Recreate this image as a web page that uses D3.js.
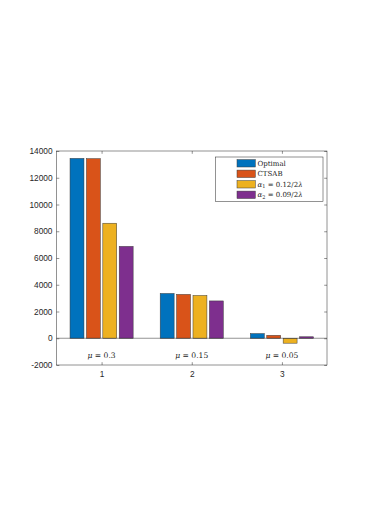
<!DOCTYPE html>
<html>
<head>
<meta charset="utf-8">
<script src="https://cdn.jsdelivr.net/npm/d3@7"></script>
<style>
html,body{margin:0;padding:0;background:#fff;}
svg{display:block;}
</style>
</head>
<body>
<svg id="c" width="372" height="526"></svg>
<script>
const groups = [1, 2, 3];
const muLabels = ["0.3", "0.15", "0.05"];
const seriesNames = ["Optimal", "CTSAB", "a1", "a2"];
const optimal = [13450, 3350, 350];
const ctsab = [13430, 3280, 220];
const alpha1 = [8600, 3200, -370];
const alpha2 = [6870, 2790, 110];
const yTicks = [-2000, 0, 2000, 4000, 6000, 8000, 10000, 12000, 14000];
const colors = ["#0072BD", "#D95319", "#EDB120", "#7E2F8E"];

const series = [optimal, ctsab, alpha1, alpha2];
const svg = d3.select("#c");
const L = 56.5, R = 327, T = 151, B = 365;
const x = d3.scaleLinear().domain([0.5, 3.5]).range([L, R]);
const y = d3.scaleLinear().domain([-2000, 14000]).range([B, T]);

const axisCol = "#262626";
const groupW = 0.7273, step = groupW / 4, barW = step * 0.85;

// bars
series.forEach((s, si) => {
  svg.append("g").selectAll("rect").data(s).join("rect")
    .attr("x", (d, i) => x(groups[i] - groupW / 2 + step * si + (step - barW) / 2))
    .attr("width", x(barW) - x(0))
    .attr("y", d => y(Math.max(0, d)))
    .attr("height", d => Math.abs(y(d) - y(0)))
    .attr("fill", colors[si])
    .attr("stroke", "#3a3a3a")
    .attr("stroke-width", 0.5);
});

// baseline
svg.append("line").attr("x1", L).attr("x2", R).attr("y1", y(0)).attr("y2", y(0))
  .attr("stroke", axisCol).attr("stroke-width", 0.5);

// axes
const tl = 2.8;
const ax = svg.append("g");
ax.append("rect").attr("x", L).attr("y", T).attr("width", R - L).attr("height", B - T)
  .attr("fill", "none").attr("stroke", axisCol).attr("stroke-width", 0.5);
const yl = svg.append("g").attr("transform", `translate(${L},0)`)
  .call(d3.axisLeft(y).tickValues(yTicks).tickSize(-tl).tickPadding(4).tickFormat(d => String(d)));
const yr = svg.append("g").attr("transform", `translate(${R},0)`)
  .call(d3.axisRight(y).tickValues(yTicks).tickSize(-tl).tickFormat(""));
const xb = svg.append("g").attr("transform", `translate(0,${B})`)
  .call(d3.axisBottom(x).tickValues(groups).tickSize(-tl).tickPadding(6).tickFormat(d => String(d)));
const xt = svg.append("g").attr("transform", `translate(0,${T})`)
  .call(d3.axisTop(x).tickValues(groups).tickSize(-tl).tickFormat(""));
[yl, yr, xb, xt].forEach(g => {
  g.select(".domain").remove();
  g.selectAll(".tick line").attr("stroke", axisCol).attr("stroke-width", 0.5);
  g.selectAll("text").attr("fill", axisCol).attr("font-family", "Liberation Sans, Arial, sans-serif").attr("font-size", 8.3);
});

// mu labels
groups.forEach((g, i) => {
  const t = svg.append("text").attr("x", x(g)).attr("y", 357.5).attr("text-anchor", "middle")
    .attr("font-family", "DejaVu Serif, Liberation Serif, serif").attr("font-size", 7.6).attr("fill", "#222");
  t.append("tspan").attr("font-style", "italic").text("μ");
  t.append("tspan").text(" = " + muLabels[i]);
});

// legend
const lg = svg.append("g");
lg.append("rect").attr("x", 215.5).attr("y", 157).attr("width", 107.5).attr("height", 44.5)
  .attr("fill", "#fff").attr("stroke", axisCol).attr("stroke-width", 0.5);
const legendTexts = [
  [{t: "Optimal"}],
  [{t: "CTSAB"}],
  [{t: "α", i: true}, {t: "1", sub: true}, {t: " = 0.12/2"}, {t: "λ", i: true}],
  [{t: "α", i: true}, {t: "2", sub: true}, {t: " = 0.09/2"}, {t: "λ", i: true}]
];
seriesNames.forEach((n, k) => {
  const cy = 163.3 + k * 10.5;
  lg.append("rect").attr("x", 237).attr("y", cy - 3.7).attr("width", 18.3).attr("height", 7.4)
    .attr("fill", colors[k]).attr("stroke", "#3a3a3a").attr("stroke-width", 0.5);
  const t = lg.append("text").attr("x", 257.5).attr("y", cy + 2.6)
    .attr("font-family", "DejaVu Serif, Liberation Serif, serif").attr("font-size", 7).attr("fill", "#222");
  legendTexts[k].forEach(p => {
    const s = t.append("tspan").text(p.t);
    if (p.i) s.attr("font-style", "italic");
    if (p.sub) s.attr("font-size", 5).attr("dy", 1.5);
    else if (p.t.startsWith(" ")) s.attr("dy", -1.5);
  });
});
</script>
</body>
</html>
